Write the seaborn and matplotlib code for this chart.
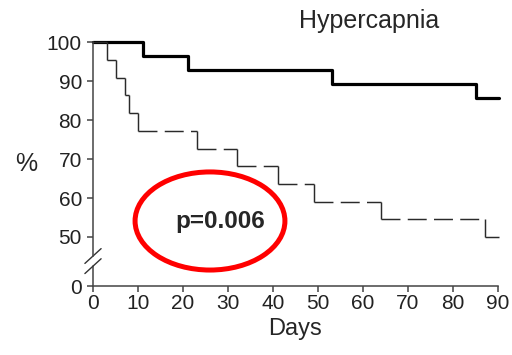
import numpy as np
import seaborn as sns
import matplotlib.pyplot as plt
from matplotlib.patches import Ellipse

# Kaplan-Meier style step data
days_solid = [0, 11, 21, 53, 85, 90.3]
surv_solid = [100, 96.4, 92.9, 89.3, 85.7, 85.7]

days_dash = [0, 3, 5, 7, 8, 10, 23, 32, 41, 49, 64, 87, 90.3]
surv_dash = [100, 95.5, 90.9, 86.4, 81.8, 77.3, 72.7, 68.2, 63.6, 59.1, 54.5, 50, 50]

x_ticks = [0, 10, 20, 30, 40, 50, 60, 70, 80, 90]
y_labels = ['0', '50', '60', '70', '80', '90', '100']
y_ticks = [37.4, 50, 60, 70, 80, 90, 100]   # "0" sits below the axis break

sns.set_style('ticks')
plt.rcParams['font.family'] = ['Liberation Sans', 'DejaVu Sans']

fig = plt.figure(figsize=(5.12, 3.55), dpi=100)
ax = fig.add_axes([93 / 512, 1 - 286 / 355, 405 / 512, (286 - 42.3) / 355])

# solid curve
sns.lineplot(x=days_solid, y=surv_solid, drawstyle='steps-post', color='black',
             lw=2.3, ax=ax, clip_on=False)

# dashed curve: dashed horizontals, solid drops
d = np.array(days_dash)
s = np.array(surv_dash)
ax.hlines(s[:-1], d[:-1], d[1:], colors='#2a2a2a', lw=1.05,
          linestyles=(0, (13, 5)), clip_on=False)
ax.vlines(d[1:-1], s[1:-1], s[:-2], colors='#2a2a2a', lw=1.05, clip_on=False)

ax.set_xlim(0, 90)
ax.set_ylim(37.4, 100)
ax.set_xticks(x_ticks)
ax.set_yticks(y_ticks)
ax.set_yticklabels(y_labels)
ax.tick_params(labelsize=15, length=4, width=1.1, color='#444444', labelcolor='#222222')
ax.tick_params(axis='x', pad=1.5)
ax.tick_params(axis='y', pad=4)

sns.despine(ax=ax)
for sp in ['left', 'bottom']:
    ax.spines[sp].set_color('#444444')
    ax.spines[sp].set_linewidth(1.1)
ax.spines['left'].set_bounds(45.1, 100)
ax.plot([0, 0], [37.4, 42.5], color='#444444', lw=1.1, clip_on=False)

# axis break slashes
trans = ax.get_yaxis_transform()
for yc in [45.1, 42.5]:
    ax.plot([-0.02, 0.02], [yc - 1.9, yc + 1.9], color='#333333', lw=1.0,
            transform=trans, clip_on=False)

ax.set_xlabel('Days', fontsize=17, labelpad=4)
ax.set_ylabel('%', fontsize=18, rotation=0, va='center', ha='center')
ax.yaxis.set_label_coords(-0.165, 0.5)

fig.text(369 / 512, 1 - 28 / 355, 'Hypercapnia', fontsize=18, ha='center', va='baseline')

ax.add_patch(Ellipse((26, 54.1), 33.3, 25.2, fill=False, edgecolor='red', lw=3.6,
                     clip_on=False))
ax.text(28.2, 53.9, 'p=0.006', fontsize=17.5, fontweight='bold', ha='center', va='center')

fig.savefig('out.png', dpi=100)
